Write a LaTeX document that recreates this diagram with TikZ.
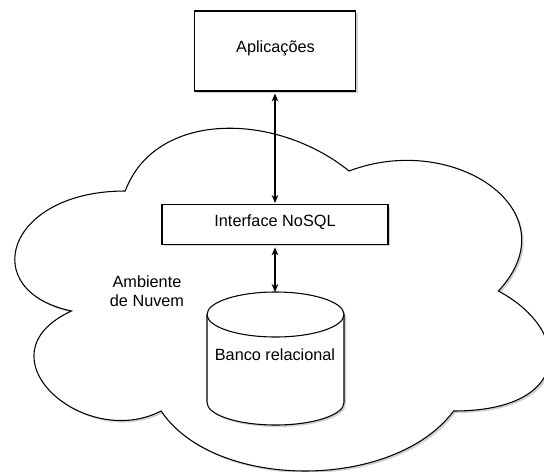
\documentclass[tikz,border=0pt]{standalone}
\usepackage{fontspec}
\setmainfont{Liberation Sans}
\usepackage{tikz}
\usetikzlibrary{arrows.meta,shadows}

\begin{document}
\begin{tikzpicture}[x=0.75pt,y=-0.75pt,
    sombra/.style={drop shadow={shadow xshift=1.5pt,shadow yshift=-1.5pt,fill=black,opacity=0.18}},
    caixa/.style={draw,line width=0.8pt,fill=white,sombra,font=\fontsize{12}{14}\selectfont},
    seta/.style={line width=0.8pt,{Stealth[length=6pt,width=5pt]}-{Stealth[length=6pt,width=5pt]}},
    rotulo/.style={font=\fontsize{12.2}{14}\selectfont,align=center}]
    \useasboundingbox (0,0) rectangle (544,472);
    \clip (0,0) rectangle (544,472);
    \draw[line width=0.8pt,fill=white,sombra] (125.25,191) .. controls (5.85,191) and (-24,291) .. (71.5,311)
        .. controls (-24,355) and (83.5,451) .. (161.1,411)
        .. controls (214.8,491) and (393.9,491) .. (453.6,411)
        .. controls (573,411) and (573,331) .. (498.4,291)
        .. controls (573,211) and (453.6,131) .. (349.1,171)
        .. controls (274.5,111) and (155.1,111) .. (125.25,191) -- cycle;
    \node[rotulo] (nuvem) at (147,291) {Ambiente\\de Nuvem};
    \node[caixa,minimum width=120.75pt,minimum height=60pt] (apl) at (275,51) {};
    \node[rotulo] at (275.5,48) {Aplicações};
    \node[caixa,minimum width=169.5pt,minimum height=29.5pt] (nosql) at (275,224.5) {};
    \node[rotulo] at (275,222) {Interface NoSQL};
    \draw[line width=0.8pt,fill=white,sombra] (207,314.5) -- (207,402.5)
        arc[start angle=180,end angle=0,x radius=68.5,y radius=22.5] -- (344,314.5)
        arc[start angle=0,end angle=-180,x radius=68.5,y radius=22.5] -- cycle;
    \draw[line width=0.8pt] (207,314.5) arc[start angle=180,end angle=0,x radius=68.5,y radius=22.5];
    \coordinate (bancotopo) at (275,292);
    \node[rotulo] (banco) at (275,355) {Banco relacional};
    \draw[seta,shorten <=1.5pt,shorten >=1pt] (apl.south) -- (nosql.north);
    \draw[seta,shorten <=2pt] (nosql.south) -- (bancotopo);
\end{tikzpicture}
\end{document}
